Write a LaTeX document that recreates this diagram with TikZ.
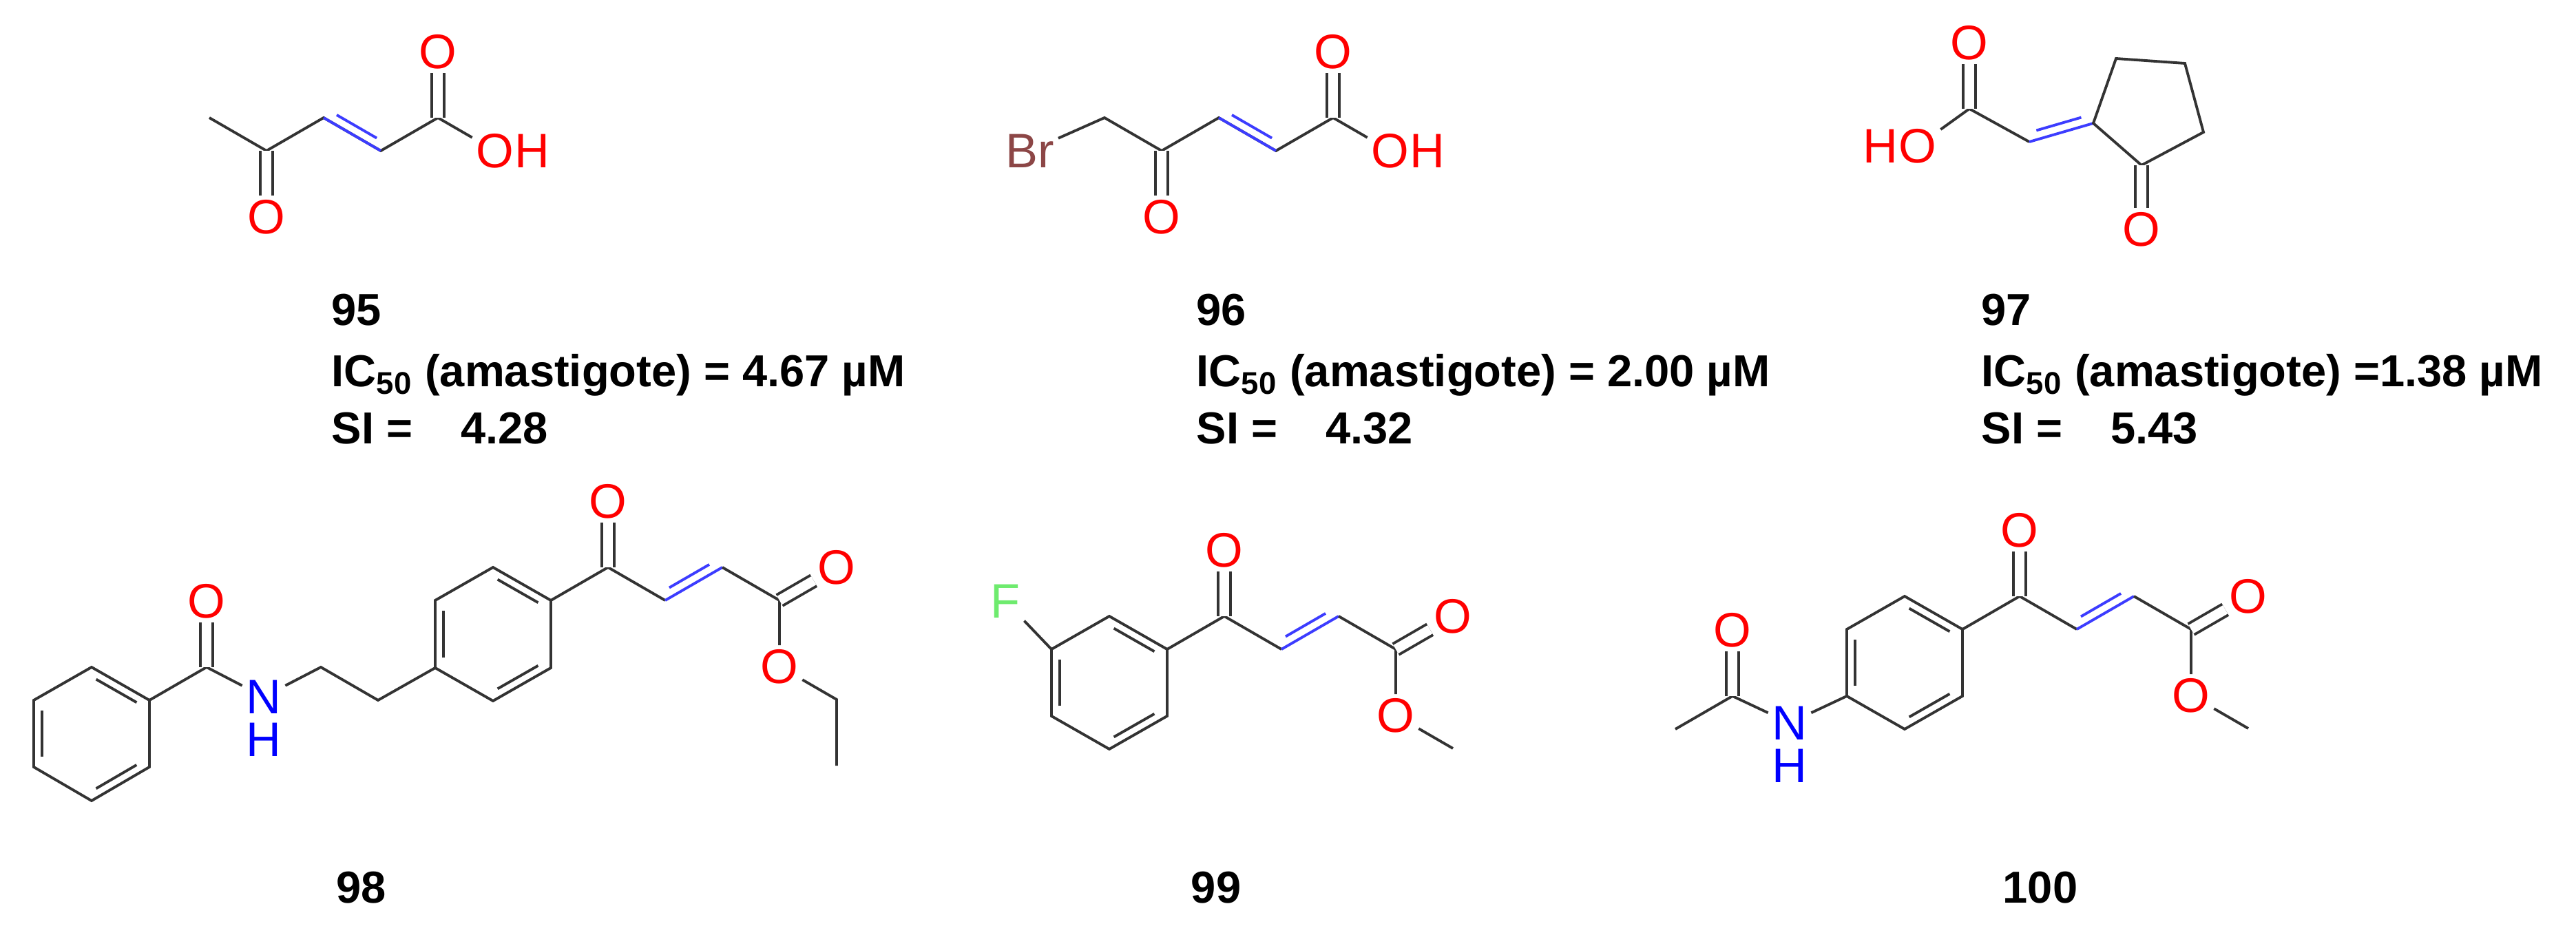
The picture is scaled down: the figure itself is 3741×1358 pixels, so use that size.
\documentclass[tikz,border=0pt]{standalone}
\usepackage{fontspec}
\setmainfont{Liberation Sans}
\usetikzlibrary{calc}
\definecolor{bondc}{RGB}{51,51,51}
\definecolor{dbc}{RGB}{60,60,255}
\definecolor{ored}{RGB}{255,0,0}
\definecolor{nblue}{RGB}{0,0,255}
\definecolor{brc}{RGB}{140,70,70}
\definecolor{fgreen}{RGB}{110,235,110}
\tikzset{
  bond/.style={draw=bondc,line width=1.1pt},
  cdbl/.style={draw=bondc,line width=1.1pt,double=white,double distance=4pt},
  atom/.style={inner sep=1.5pt,font=\fontsize{20}{20}\selectfont},
  atO/.style={atom,text=ored},
  atN/.style={atom,text=nblue},
  lbl/.style={font=\fontsize{18.5}{21}\selectfont\bfseries,inner sep=0pt},
}
% inner (offset) line of a double bond
\newcommand\dblin[4]{\draw[draw=#4,line width=1.1pt] ($(#1)!0.15!(#2)!#3!90:(#2)$) -- ($(#2)!0.15!(#1)!#3!-90:(#1)$);}
\begin{document}
\begin{tikzpicture}[x=0.01cm,y=-0.01cm]
\useasboundingbox[fill=white] (0,0) rectangle (3741,1358);

% ---------- 95 ----------
\coordinate (a_m) at (304,171);
\coordinate (a_c4) at (387,219);
\node[atO] (a_o4) at (387,315) {O};
\coordinate (a_c3) at (470,171);
\coordinate (a_c2) at (553,219);
\coordinate (a_c1) at (636,171);
\node[atO] (a_o1) at (636,75) {O};
\node[atO] (a_oh) at (719,219) {O};
\node[atO,anchor=west,inner sep=0pt,xshift=-1.5pt] at (a_oh.east) {H};
\draw[bond] (a_m)--(a_c4)--(a_c3)--(a_c2)--(a_c1)--(a_oh);
\draw[cdbl] (a_c4)--(a_o4);
\draw[cdbl] (a_c1)--(a_o1);
\dblin{a_c3}{a_c2}{1.3mm}{dbc}
\draw[dbc,line width=1.1pt] (a_c3)--(a_c2);
\node[lbl,anchor=base west] at (481,473) {95};
\node[lbl,anchor=base west] at (481,562) {IC\textsubscript{50} (amastigote) = 4.67 µM};
\node[lbl,anchor=base west] at (481,645) {SI = \hspace{0.8em}4.28};

% ---------- 96 ----------
\node[atom,text=brc,anchor=east] (b_br) at (1537,219) {Br};
\coordinate (b_ch) at (1604,171);
\coordinate (b_c4) at (1687,219);
\node[atO] (b_o4) at (1687,315) {O};
\coordinate (b_c3) at (1770,171);
\coordinate (b_c2) at (1853,219);
\coordinate (b_c1) at (1936,171);
\node[atO] (b_o1) at (1936,75) {O};
\node[atO] (b_oh) at (2019,219) {O};
\node[atO,anchor=west,inner sep=0pt,xshift=-1.5pt] at (b_oh.east) {H};
\draw[bond] (b_br)--(b_ch)--(b_c4)--(b_c3)--(b_c2)--(b_c1)--(b_oh);
\draw[cdbl] (b_c4)--(b_o4);
\draw[cdbl] (b_c1)--(b_o1);
\dblin{b_c3}{b_c2}{1.3mm}{dbc}
\draw[dbc,line width=1.1pt] (b_c3)--(b_c2);
\node[lbl,anchor=base west] at (1737,473) {96};
\node[lbl,anchor=base west] at (1737,562) {IC\textsubscript{50} (amastigote) = 2.00 µM};
\node[lbl,anchor=base west] at (1737,645) {SI = \hspace{0.8em}4.32};

% ---------- 97 ----------
\coordinate (c_ca) at (2860,158);
\node[atO] (c_o1) at (2860,62) {O};
\node[atO] (c_oh) at (2785,212) {O};
\node[atO,anchor=east,inner sep=0pt,xshift=1.5pt] at (c_oh.west) {H};
\coordinate (c_ch) at (2947,206);
\coordinate (c_r1) at (3040,179);
\coordinate (c_r2) at (3073,85);
\coordinate (c_r3) at (3173,92);
\coordinate (c_r4) at (3200,192);
\coordinate (c_r5) at (3110,240);
\node[atO] (c_o5) at (3110,333) {O};
\draw[bond] (c_oh)--(c_ca)--(c_ch);
\draw[cdbl] (c_ca)--(c_o1);
\draw[dbc,line width=1.1pt] (c_ch)--(c_r1);
\dblin{c_ch}{c_r1}{1.3mm}{dbc}
\draw[bond] (c_r1)--(c_r2)--(c_r3)--(c_r4)--(c_r5)--cycle;
\draw[cdbl] (c_r5)--(c_o5);
\node[lbl,anchor=base west] at (2877,473) {97};
\node[lbl,anchor=base west] at (2877,562) {IC\textsubscript{50} (amastigote) =1.38 µM};
\node[lbl,anchor=base west] at (2877,645) {SI = \hspace{0.8em}5.43};

% ---------- 98 ----------
\coordinate (d_1) at (133,969);
\coordinate (d_2) at (217,1017);
\coordinate (d_3) at (217,1114);
\coordinate (d_4) at (133,1163);
\coordinate (d_5) at (49,1114);
\coordinate (d_6) at (49,1017);
\draw[bond] (d_1)--(d_2)--(d_3)--(d_4)--(d_5)--(d_6)--cycle;
\dblin{d_1}{d_2}{-1.2mm}{bondc}
\dblin{d_3}{d_4}{-1.2mm}{bondc}
\dblin{d_5}{d_6}{-1.2mm}{bondc}
\coordinate (d_ca) at (300,969);
\node[atO] (d_oa) at (300,873) {O};
\node[atN] (d_n) at (383,1012) {N};
\node[atN,anchor=north,inner sep=0pt,yshift=-2pt] at (d_n.south) {H};
\coordinate (d_e1) at (466,969);
\coordinate (d_e2) at (549,1017);
\coordinate (r_1) at (716,824);
\coordinate (r_2) at (800,872);
\coordinate (r_3) at (800,970);
\coordinate (r_4) at (716,1018);
\coordinate (r_5) at (632,970);
\coordinate (r_6) at (632,872);
\draw[bond] (r_1)--(r_2)--(r_3)--(r_4)--(r_5)--(r_6)--cycle;
\dblin{r_1}{r_2}{-1.2mm}{bondc}
\dblin{r_3}{r_4}{-1.2mm}{bondc}
\dblin{r_5}{r_6}{-1.2mm}{bondc}
\coordinate (d_ck) at (883,824);
\node[atO] (d_ok) at (883,728) {O};
\coordinate (d_h1) at (966,872);
\coordinate (d_h2) at (1049,824);
\coordinate (d_ce) at (1132,872);
\node[atO] (d_oe) at (1215,824) {O};
\node[atO] (d_os) at (1132,968) {O};
\coordinate (d_et1) at (1215,1016);
\coordinate (d_et2) at (1215,1112);
\draw[bond] (d_2)--(d_ca)--(d_n)--(d_e1)--(d_e2)--(r_5);
\draw[cdbl] (d_ca)--(d_oa);
\draw[bond] (r_2)--(d_ck)--(d_h1);
\draw[cdbl] (d_ck)--(d_ok);
\draw[dbc,line width=1.1pt] (d_h1)--(d_h2);
\dblin{d_h1}{d_h2}{1.3mm}{dbc}
\draw[bond] (d_h2)--(d_ce)--(d_os)--(d_et1)--(d_et2);
\draw[cdbl] (d_ce)--(d_oe);
\node[lbl,anchor=base] at (525,1311) {98};

% ---------- 99 ----------
\coordinate (e_1) at (1611,895);
\coordinate (e_2) at (1695,943);
\coordinate (e_3) at (1695,1040);
\coordinate (e_4) at (1611,1088);
\coordinate (e_5) at (1527,1040);
\coordinate (e_6) at (1527,943);
\draw[bond] (e_1)--(e_2)--(e_3)--(e_4)--(e_5)--(e_6)--cycle;
\dblin{e_1}{e_2}{-1.2mm}{bondc}
\dblin{e_3}{e_4}{-1.2mm}{bondc}
\dblin{e_5}{e_6}{-1.2mm}{bondc}
\node[atom,text=fgreen] (e_f) at (1460,873) {F};
\coordinate (e_ck) at (1778,895);
\node[atO] (e_ok) at (1778,799) {O};
\coordinate (e_h1) at (1861,943);
\coordinate (e_h2) at (1944,895);
\coordinate (e_ce) at (2027,943);
\node[atO] (e_oe) at (2110,895) {O};
\node[atO] (e_os) at (2027,1039) {O};
\coordinate (e_me) at (2110,1087);
\draw[bond] (e_6)--(e_f);
\draw[bond] (e_2)--(e_ck)--(e_h1);
\draw[cdbl] (e_ck)--(e_ok);
\draw[dbc,line width=1.1pt] (e_h1)--(e_h2);
\dblin{e_h1}{e_h2}{1.3mm}{dbc}
\draw[bond] (e_h2)--(e_ce)--(e_os)--(e_me);
\draw[cdbl] (e_ce)--(e_oe);
\node[lbl,anchor=base] at (1766,1311) {99};

% ---------- 100 ----------
\coordinate (f_me) at (2433,1059);
\coordinate (f_ca) at (2516,1011);
\node[atO] (f_oa) at (2516,915) {O};
\node[atN] (f_n) at (2599,1050) {N};
\node[atN,anchor=north,inner sep=0pt,yshift=-2pt] at (f_n.south) {H};
\coordinate (s_1) at (2766,866);
\coordinate (s_2) at (2850,914);
\coordinate (s_3) at (2850,1011);
\coordinate (s_4) at (2766,1059);
\coordinate (s_5) at (2682,1011);
\coordinate (s_6) at (2682,914);
\draw[bond] (s_1)--(s_2)--(s_3)--(s_4)--(s_5)--(s_6)--cycle;
\dblin{s_1}{s_2}{-1.2mm}{bondc}
\dblin{s_3}{s_4}{-1.2mm}{bondc}
\dblin{s_5}{s_6}{-1.2mm}{bondc}
\coordinate (f_ck) at (2933,866);
\node[atO] (f_ok) at (2933,770) {O};
\coordinate (f_h1) at (3016,914);
\coordinate (f_h2) at (3099,866);
\coordinate (f_ce) at (3182,914);
\node[atO] (f_oe) at (3265,866) {O};
\node[atO] (f_os) at (3182,1010) {O};
\coordinate (f_m2) at (3265,1058);
\draw[bond] (f_me)--(f_ca)--(f_n)--(s_5);
\draw[cdbl] (f_ca)--(f_oa);
\draw[bond] (s_2)--(f_ck)--(f_h1);
\draw[cdbl] (f_ck)--(f_ok);
\draw[dbc,line width=1.1pt] (f_h1)--(f_h2);
\dblin{f_h1}{f_h2}{1.3mm}{dbc}
\draw[bond] (f_h2)--(f_ce)--(f_os)--(f_m2);
\draw[cdbl] (f_ce)--(f_oe);
\node[lbl,anchor=base] at (2963,1311) {100};
\end{tikzpicture}
\end{document}
